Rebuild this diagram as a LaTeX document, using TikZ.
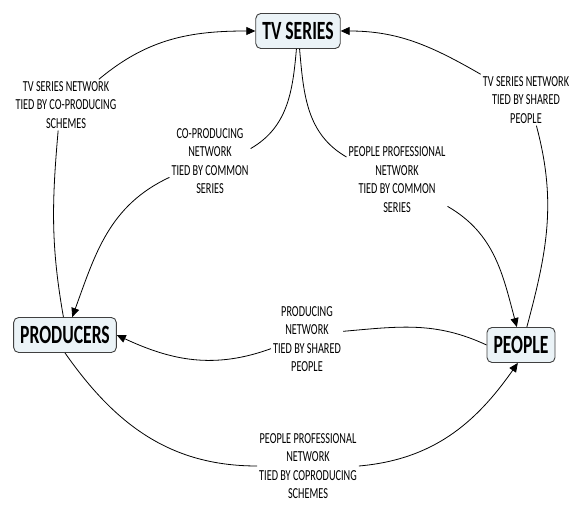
\documentclass[tikz,border=0pt]{standalone}
\usepackage{fontspec}
\usetikzlibrary{arrows.meta}
\newfontfamily\lblfont[FakeStretch=0.67]{Carlito}
\definecolor{boxfill}{HTML}{EBF3F7}
\definecolor{boxline}{HTML}{404040}
\tikzset{
    entity/.style={draw=boxline, fill=boxfill, rounded corners=5pt, line width=0.9pt,
        inner xsep=6.5pt, minimum height=35pt,
        font=\lblfont\bfseries\fontsize{26.3pt}{27pt}\selectfont},
    tie/.style={align=center, inner sep=2pt,
        font=\lblfont\fontsize{15.3pt}{18.5pt}\selectfont},
    link/.style={line width=0.8pt},
    linkto/.style={link, -{Triangle[length=9pt,width=8pt]}}
}
\begin{document}
\begin{tikzpicture}[x=1pt, y=1pt]
    \useasboundingbox (0,0) rectangle (575,505);
    % the three entities
    \node[entity] (tv) at (298,474) {TV SERIES};
    \node[entity] (prod) at (65,170) {PRODUCERS};
    \node[entity] (ppl) at (521,160) {PEOPLE};
    % the network labels
    \node[tie] (tvprod) at (66,400) {TV SERIES NETWORK\\TIED BY CO-PRODUCING\\SCHEMES};
    \node[tie] (coprod) at (210,344) {CO-PRODUCING\\NETWORK\\TIED BY COMMON\\SERIES};
    \node[tie] (tvppl) at (526,405) {TV SERIES NETWORK\\TIED BY SHARED\\PEOPLE};
    \node[tie] (pplser) at (397,325.5) {PEOPLE PROFESSIONAL\\NETWORK\\TIED BY COMMON\\SERIES};
    \node[tie] (prodppl) at (307,166) {PRODUCING\\NETWORK\\TIED BY SHARED\\PEOPLE};
    \node[tie] (pplprod) at (308,39) {PEOPLE PROFESSIONAL\\NETWORK\\TIED BY COPRODUCING\\SCHEMES};
    % producers -> tv series
    \draw[link] (prod.95) to[out=100, in=-95] (tvprod.253);
    \draw[linkto] (tvprod.38) to[out=40, in=180] (tv.west);
    % tv series -> producers
    \draw[link] (tv.265) to[out=265, in=30] (coprod.17);
    \draw[linkto] (coprod.202) to[out=205, in=70] (prod.68);
    % tv series -> people
    \draw[link] (tv.275) to[out=275, in=150] (pplser.156);
    \draw[linkto] (pplser.332) to[out=-30, in=105] (ppl.103);
    % people -> tv series
    \draw[link] (ppl.72) to[out=75, in=-75] (tvppl.292);
    \draw[linkto] (tvppl.north west) to[out=150, in=0] (tv.east);
    % people -> producers
    \draw[link] (ppl.west) to[out=155, in=5] (prodppl.12);
    \draw[linkto] (prodppl.195) to[out=200, in=-25] (prod.east);
    % producers -> people
    \draw[link] (prod.south) to[out=-55, in=180] (pplprod.west);
    \draw[linkto] (pplprod.east) to[out=5, in=235] (ppl.260);
\end{tikzpicture}
\end{document}
